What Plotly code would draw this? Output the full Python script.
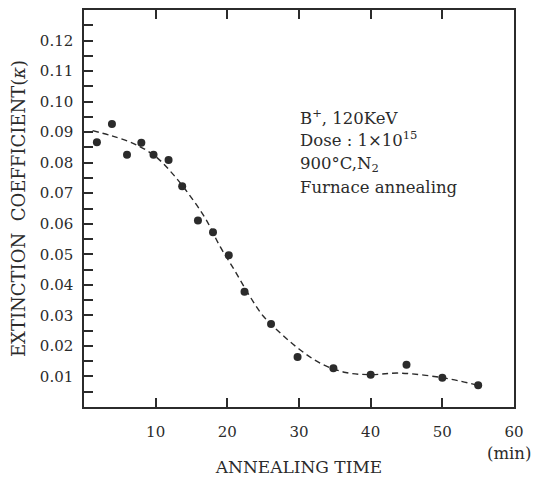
import plotly.graph_objects as go

# measured points
time_min = [1.8, 3.9, 6.0, 8.0, 9.7, 11.8, 13.7, 15.9, 18.0, 20.2, 22.4, 26.1, 29.8, 34.8, 40.0, 45.0, 50.0, 55.0]
kappa = [0.0867, 0.0927, 0.0826, 0.0865, 0.0826, 0.0809, 0.0723, 0.0611, 0.0572, 0.0497, 0.0377, 0.0272, 0.0164, 0.0127, 0.0106, 0.0138, 0.0096, 0.0071]

# fitted (dashed) curve
fit_time = [1.2, 4.0, 7.0, 10.0, 12.5, 15.0, 17.0, 19.0, 21.0, 23.0, 25.0, 27.5, 30.0, 33.0, 36.5, 40.0, 44.0, 50.0, 55.0]
fit_kappa = [0.0905, 0.0887, 0.0862, 0.0820, 0.0760, 0.0685, 0.0615, 0.0525, 0.0448, 0.0368, 0.0298, 0.0240, 0.0190, 0.0143, 0.0113, 0.0106, 0.0111, 0.0096, 0.0071]

x_ticks = [10, 20, 30, 40, 50, 60]
x_labels = ["10", "20", "30", "40", "50", "60"]
y_ticks = [i * 0.005 for i in range(1, 26)]
y_labels = [("%.2f" % v) if i % 2 == 1 else "" for i, v in enumerate(y_ticks)]

notes = ["B<sup>+</sup>, 120KeV", "Dose : 1×10<sup>15</sup>", "900°C,N<sub>2</sub>", "Furnace annealing"]
note_y = [0.0951, 0.0877, 0.0795, 0.0718]

ink = "#2b2b2b"
font_family = "DejaVu Serif"

fig = go.Figure()
fig.add_trace(go.Scatter(x=fit_time, y=fit_kappa, mode="lines", line_shape="spline",
                         line=dict(color=ink, width=1.4, dash="6px,4px"), hoverinfo="skip",
                         showlegend=False))
fig.add_trace(go.Scatter(x=time_min, y=kappa, mode="markers",
                         marker=dict(color=ink, size=8), showlegend=False))

for t, yy in zip(notes, note_y):
    fig.add_annotation(x=29.9, y=yy, xref="x", yref="y", text=t, showarrow=False,
                       xanchor="left", yanchor="middle",
                       font=dict(family=font_family, size=16.5, color=ink))

fig.add_annotation(x=59.3, y=0, xref="x", yref="y", text="(min)", showarrow=False,
                   xanchor="center", yanchor="top", yshift=-35,
                   font=dict(family=font_family, size=16.5, color=ink))

fig.update_layout(
    width=549, height=482,
    margin=dict(l=84, r=35, t=8, b=69),
    paper_bgcolor="white", plot_bgcolor="white",
    font=dict(family=font_family, size=15, color=ink),
)
fig.update_xaxes(range=[0, 60], tickvals=x_ticks, ticktext=x_labels, ticks="inside", ticklen=9,
                 tickwidth=1.5, tickcolor=ink, showline=True, linecolor=ink, linewidth=1.5,
                 mirror="ticks", showgrid=False, zeroline=False, ticklabelstandoff=10,
                 title=dict(text="ANNEALING TIME", font=dict(size=17), standoff=21))
fig.update_yaxes(range=[0, 0.13], tickvals=y_ticks, ticktext=y_labels, ticks="inside", ticklen=9,
                 tickwidth=1.5, tickcolor=ink, showline=True, linecolor=ink, linewidth=1.5,
                 mirror=True, showgrid=False, zeroline=False, ticklabelstandoff=6,
                 title=dict(text="EXTINCTION  COEFFICIENT(<i>κ</i>)", font=dict(size=18), standoff=10))

fig.write_html("out.html")
